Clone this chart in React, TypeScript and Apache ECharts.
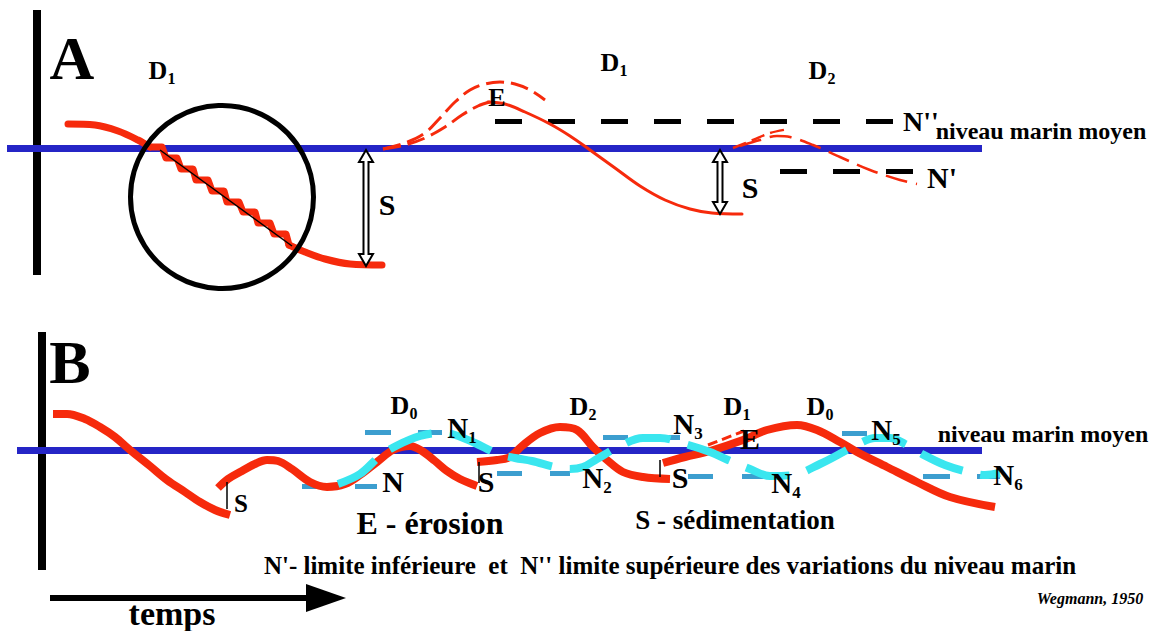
import React, { useEffect, useRef } from 'react';
import * as echarts from 'echarts';

const W = 1157;
const H = 631;
const RED = '#f62a0c';
const BLUE = '#2525c6';
const CYAN = '#3ae6ef';
const LBLUE = '#3c9ecf';
const FONT = 'Liberation Serif';

// ---------- Panel A ----------
const seaLevelA = [[7, 148], [982, 148]];
const timeAxisA = [[37, 10], [37, 275]];
const redA1Upper = [[68, 124], [95, 125], [118, 131], [138, 140], [150, 147]];
const redA1Steps = [
  [150, 147], [162, 147], [166, 158], [177, 158], [181, 169], [193, 169], [196, 180],
  [208, 180], [212, 191], [224, 191], [227, 202], [239, 202], [243, 212], [255, 212],
  [258, 223], [270, 223], [274, 234], [286, 234], [289, 245],
];
const redA1Lower = [[289, 245], [305, 252], [325, 259], [350, 264], [382, 265]];
const diagonalA = [[160, 150], [292, 246]];
const circleA = [[222, 197]];
const redA2 = [
  [488, 102], [505, 104], [525, 112], [550, 124], [570, 136], [590, 150], [615, 168],
  [640, 186], [665, 200], [690, 209], [712, 213], [742, 214],
];
const redA2DashLow = [[383, 149], [405, 145], [425, 138], [445, 127], [462, 115], [478, 106], [490, 102]];
const redA2DashHigh = [
  [383, 149], [405, 143], [425, 133], [440, 118], [455, 102], [470, 90], [485, 84],
  [500, 82], [515, 84], [530, 90], [545, 100],
];
const redA3DashHigh = [[733, 148], [753, 140], [770, 133], [789, 129]];
const redA3DashLow = [
  [740, 146], [760, 140], [777, 136], [790, 137], [813, 145], [840, 157], [870, 170],
  [900, 180], [917, 184],
];
const limitHigh = [[495, 121], [895, 121]]; // N''
const limitLow = [[780, 171], [913, 171]]; // N'
const arrowsS = [[366, 150, 266], [720, 150, 214]];

// ---------- Panel B ----------
const seaLevelB = [[17, 450], [982, 450]];
const timeAxisB = [[42, 332], [42, 570]];
const redB1 = [
  [53, 414], [67, 414], [85, 419], [100, 427], [115, 437], [130, 450], [150, 466],
  [167, 480], [185, 492], [200, 502], [215, 510], [230, 515],
];
const redB2 = [
  [218, 488], [228, 479], [240, 472], [255, 464], [267, 460], [278, 461], [292, 469],
  [310, 482], [327, 487], [345, 484], [360, 475], [377, 462], [393, 450], [410, 446],
  [422, 451], [435, 461], [447, 471], [460, 479], [477, 486],
];
const redB3 = [
  [477, 462], [497, 460], [510, 457], [522, 446], [540, 433], [560, 427], [577, 430],
  [593, 447], [607, 460], [623, 472], [643, 477], [670, 479],
];
const redB4 = [
  [663, 463], [685, 457], [710, 451], [743, 440], [767, 430], [797, 425], [817, 430],
  [840, 442], [857, 452], [887, 467], [917, 482], [950, 497], [995, 507],
];
const redBDash = [[708, 445], [744, 431]];
const cyanWave = [
  [338, 484], [360, 474], [380, 456], [398, 445], [420, 436], [440, 433], [455, 435],
  [475, 443], [498, 454], [515, 458], [532, 461], [555, 467], [570, 469], [583, 467],
  [597, 459], [620, 446], [643, 438], [660, 438], [685, 444], [710, 452], [728, 460],
  [750, 469], [770, 476], [793, 475], [820, 464], [845, 451], [860, 443], [875, 438],
  [890, 438], [905, 444], [922, 454], [945, 465], [968, 472], [985, 475], [1000, 473],
];
const levelDashes = [
  [302, 486, 327], [355, 486, 377], [365, 432, 391], [418, 432, 442], [497, 473, 522],
  [550, 473, 570], [603, 437, 628], [657, 437, 680], [688, 476, 713], [742, 476, 765],
  [842, 433, 867], [923, 476, 950], [977, 476, 1000],
];
const ticksS = [[227, 482, 509], [479, 462, 483], [660, 460, 477]];
const timeArrow = [[50, 598, 346]];

// ---------- Texts: [x, y, text, kind] ----------
const texts: [number, number, string, string][] = [
  [72, 58, 'A', 'panel'],
  [162, 70, 'D|1', 'dsub'],
  [614, 62, 'D|1', 'dsub'],
  [822, 70, 'D|2', 'dsub'],
  [497, 97, 'E', 'small'],
  [387, 204, 'S', 'mid'],
  [750, 187, 'S', 'mid'],
  [921, 121, "N''", 'npp'],
  [942, 177, "N'", 'mid'],
  [1041, 131, 'niveau marin moyen', 'niveau'],
  [70, 362, 'B', 'panel'],
  [404, 405, 'D|0', 'dsub'],
  [583, 406, 'D|2', 'dsub'],
  [737, 406, 'D|1', 'dsub'],
  [820, 406, 'D|0', 'dsub'],
  [462, 428, 'N|1', 'nsub'],
  [393, 481, 'N', 'mid'],
  [241, 503, 'S', 'smallS'],
  [486, 481, 'S', 'mid'],
  [597, 478, 'N|2', 'nsub'],
  [688, 424, 'N|3', 'nsub'],
  [680, 477, 'S', 'mid'],
  [750, 438, 'E', 'mid'],
  [786, 483, 'N|4', 'nsub'],
  [886, 430, 'N|5', 'nsub'],
  [1008, 475, 'N|6', 'nsub'],
  [1043, 434, 'niveau marin moyen', 'niveau'],
  [430, 523, 'E - érosion', 'legend1'],
  [735, 520, 'S - sédimentation', 'legend2'],
  [670, 565, "N'- limite inférieure  et  N'' limite supérieure des variations du niveau marin", 'caption'],
  [172, 613, 'temps', 'temps'],
  [1090, 598, 'Wegmann, 1950', 'credit'],
];

const kindStyle: Record<string, any> = {
  panel: { fontSize: 62 },
  small: { fontSize: 26 },
  npp: { fontSize: 28 },
  mid: { fontSize: 30 },
  smallS: { fontSize: 25 },
  niveau: { fontSize: 24 },
  legend1: { fontSize: 32 },
  legend2: { fontSize: 27 },
  caption: { fontSize: 25 },
  temps: { fontSize: 34 },
  credit: { fontSize: 16, fontStyle: 'italic' },
};

function textItem(t: [number, number, string, string]) {
  const [x, y, s, kind] = t;
  let label: any;
  if (kind === 'dsub' || kind === 'nsub') {
    const [main, sub] = s.split('|');
    const big = kind === 'dsub' ? 26 : 29;
    const sm = kind === 'dsub' ? 16 : 17;
    label = {
      formatter: `{m|${main}}{s|${sub}}`,
      rich: {
        m: { fontSize: big, fontWeight: 'bold', fontFamily: FONT, color: '#000', lineHeight: big, verticalAlign: 'bottom' },
        s: { fontSize: sm, fontWeight: 'bold', fontFamily: FONT, color: '#000', lineHeight: sm + 2, verticalAlign: 'bottom', padding: [0, 0, -3, 0] },
      },
    };
  } else {
    label = {
      formatter: s,
      fontFamily: FONT,
      fontWeight: 'bold',
      color: '#000',
      ...kindStyle[kind],
    };
  }
  return {
    value: [x, y],
    label: { show: true, position: 'inside', align: 'center', verticalAlign: 'middle', opacity: 1, textBorderWidth: 0, ...label },
  };
}

function lineSeries(data: number[][], color: string, width: number, opts: any = {}) {
  return {
    type: 'line',
    data,
    showSymbol: false,
    symbol: 'none',
    smooth: opts.smooth ?? 0.35,
    silent: true,
    z: opts.z ?? 3,
    lineStyle: { color, width, opacity: 1, type: opts.type ?? 'solid', cap: opts.cap ?? 'round', join: 'round' },
  };
}

function segSeries(coords: number[][][], color: string, width: number, opts: any = {}) {
  return {
    type: 'lines',
    coordinateSystem: 'cartesian2d',
    silent: true,
    z: opts.z ?? 2,
    data: coords.map((c) => ({ coords: c })),
    lineStyle: { color, width, opacity: 1, type: opts.type ?? 'solid', cap: opts.cap ?? 'butt' },
  };
}

export default function App() {
  const ref = useRef<HTMLDivElement>(null);
  useEffect(() => {
    if (!ref.current) return;
    const chart = echarts.init(ref.current, undefined, { renderer: 'svg' });
    const option: any = {
      animation: false,
      backgroundColor: '#ffffff',
      textStyle: { fontFamily: FONT },
      grid: { left: 0, right: 0, top: 0, bottom: 0, containLabel: false },
      xAxis: { type: 'value', min: 0, max: W, show: false },
      yAxis: { type: 'value', min: 0, max: H, inverse: true, show: false },
      series: [
        segSeries([timeAxisA, timeAxisB], '#000', 8, { z: 2 }),
        segSeries([seaLevelA, seaLevelB], BLUE, 7, { z: 2 }),
        segSeries([limitHigh, limitLow], '#000', 5, { z: 2, type: [27, 26] }),
        segSeries(levelDashes.map((d) => [[d[0], d[1]], [d[2], d[1]]]), LBLUE, 5, { z: 2 }),
        segSeries(ticksS.map((d) => [[d[0], d[1]], [d[0], d[2]]]), '#000', 1.5, { z: 6 }),
        segSeries([diagonalA], '#000', 1.5, { z: 6 }),
        lineSeries(redA1Upper, RED, 7),
        lineSeries(redA1Steps, RED, 7, { smooth: false }),
        lineSeries(redA1Lower, RED, 7),
        lineSeries(redA2, RED, 3),
        lineSeries(redA2DashLow, RED, 3, { type: [18, 7], cap: 'butt' }),
        lineSeries(redA2DashHigh, RED, 3, { type: [18, 7], cap: 'butt' }),
        lineSeries(redA3DashHigh, RED, 2.5, { type: [14, 6], cap: 'butt' }),
        lineSeries(redA3DashLow, RED, 2.5, { type: [22, 9], cap: 'butt' }),
        lineSeries(redB1, RED, 8, { cap: 'butt' }),
        lineSeries(redB2, RED, 8, { cap: 'butt' }),
        lineSeries(redB3, RED, 8, { cap: 'butt' }),
        lineSeries(redB4, RED, 8, { cap: 'butt' }),
        lineSeries(redBDash, RED, 3, { type: [10, 5], cap: 'butt', smooth: false }),
        lineSeries(cyanWave, CYAN, 8, { type: [45, 18], cap: 'butt', z: 4 }),
        {
          type: 'scatter',
          data: circleA,
          symbol: 'circle',
          symbolSize: 183,
          silent: true,
          z: 5,
          itemStyle: { color: 'rgba(0,0,0,0)', borderColor: '#000', borderWidth: 5, opacity: 1 },
        },
        {
          type: 'custom',
          data: arrowsS,
          silent: true,
          z: 6,
          renderItem: (_p: any, api: any) => {
            const a = api.coord([api.value(0), api.value(1)]);
            const b = api.coord([api.value(0), api.value(2)]);
            const cx = a[0];
            const t = Math.min(a[1], b[1]);
            const bt = Math.max(a[1], b[1]);
            const hl = 12, hw = 7, sw = 2.5;
            return {
              type: 'polygon',
              shape: {
                points: [
                  [cx, t], [cx + hw, t + hl], [cx + sw, t + hl], [cx + sw, bt - hl], [cx + hw, bt - hl],
                  [cx, bt], [cx - hw, bt - hl], [cx - sw, bt - hl], [cx - sw, t + hl], [cx - hw, t + hl],
                ],
              },
              style: { fill: '#fff', stroke: '#000', lineWidth: 2 },
            };
          },
        },
        {
          type: 'custom',
          data: timeArrow,
          silent: true,
          z: 6,
          renderItem: (_p: any, api: any) => {
            const s = api.coord([api.value(0), api.value(1)]);
            const e = api.coord([api.value(2), api.value(1)]);
            return {
              type: 'group',
              children: [
                { type: 'rect', shape: { x: s[0], y: s[1] - 3, width: e[0] - s[0] - 38, height: 6 }, style: { fill: '#000' } },
                { type: 'polygon', shape: { points: [[e[0], e[1]], [e[0] - 40, e[1] - 14], [e[0] - 40, e[1] + 14]] }, style: { fill: '#000' } },
              ],
            };
          },
        },
        {
          type: 'scatter',
          data: texts.map(textItem),
          symbolSize: 1,
          silent: true,
          z: 10,
          itemStyle: { color: 'rgba(0,0,0,0)', opacity: 1 },
        },
      ],
    };
    chart.setOption(option);
    return () => chart.dispose();
  }, []);
  return (
    <div
      ref={ref}
      style={{ position: 'fixed', left: 0, top: 0, width: W, height: H, background: '#fff' }}
    />
  );
}
